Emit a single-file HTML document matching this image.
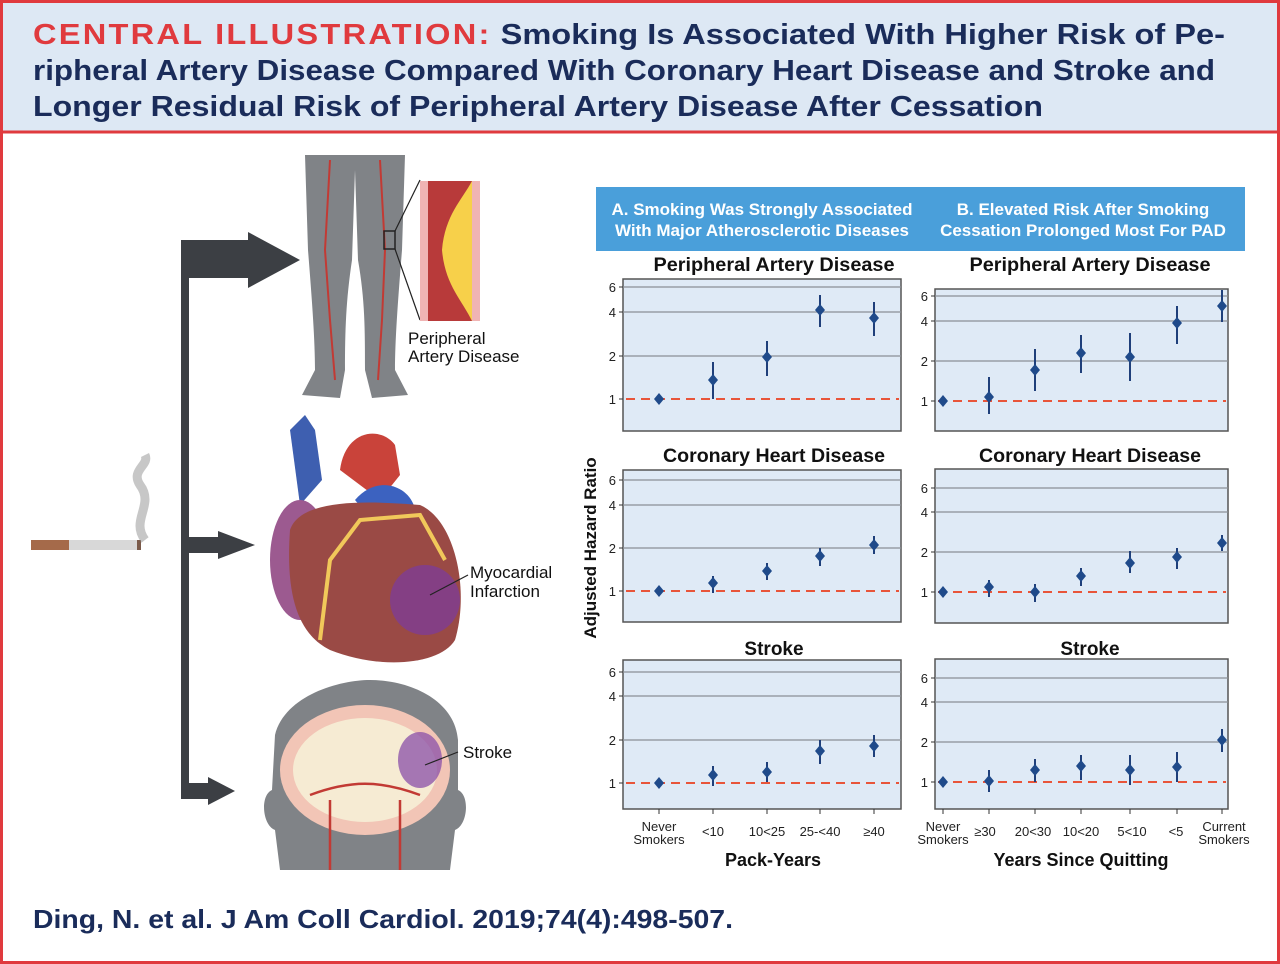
<!DOCTYPE html>
<html><head><meta charset="utf-8"><style>
html,body{margin:0;padding:0;width:1280px;height:964px;overflow:hidden;background:#fff}
svg{display:block}
text{font-family:"Liberation Sans",sans-serif}
</style></head><body>
<svg id="s" width="1280" height="964" viewBox="0 0 1280 964" xmlns="http://www.w3.org/2000/svg">
<rect x="0" y="0" width="1280" height="964" fill="#fff"/>
<rect x="0" y="0" width="1280" height="132" fill="#dde8f4"/>
<rect x="1.5" y="1.5" width="1277" height="961" fill="none" stroke="#e03a3e" stroke-width="3"/>
<line x1="0" y1="132" x2="1280" y2="132" stroke="#e03a3e" stroke-width="3"/>
<text x="33" y="44" font-size="29" font-weight="bold" fill="#1a2c5a" textLength="1192" lengthAdjust="spacingAndGlyphs"><tspan fill="#e03a3e" letter-spacing="2">CENTRAL ILLUSTRATION:</tspan> Smoking Is Associated With Higher Risk of Pe-</text>
<text x="33" y="80" font-size="29" font-weight="bold" fill="#1a2c5a" textLength="1182" lengthAdjust="spacingAndGlyphs">ripheral Artery Disease Compared With Coronary Heart Disease and Stroke and</text>
<text x="33" y="116" font-size="29" font-weight="bold" fill="#1a2c5a" textLength="1010" lengthAdjust="spacingAndGlyphs">Longer Residual Risk of Peripheral Artery Disease After Cessation</text>
<text x="33" y="928" font-size="26" font-weight="bold" fill="#1a2c5a" textLength="700" lengthAdjust="spacingAndGlyphs">Ding, N. et al. J Am Coll Cardiol. 2019;74(4):498-507.</text>

<!-- arrows -->
<g fill="#3c3f44">
<rect x="181" y="240" width="8" height="556"/>
<rect x="181" y="240" width="70" height="38"/>
<polygon points="248,232 300,260 248,288"/>
<rect x="181" y="537" width="40" height="16"/>
<polygon points="218,531 255,545 218,559"/>
<rect x="181" y="783" width="30" height="16"/>
<polygon points="208,777 235,791 208,805"/>
</g>
<!-- cigarette -->
<rect x="31" y="540" width="38" height="10" fill="#a56a4a"/>
<rect x="69" y="540" width="70" height="10" fill="#d8d8d8"/>
<rect x="137" y="540" width="4" height="10" fill="#7a5a4a"/>
<path d="M145 540 C130 520 155 505 140 485 C130 470 150 465 145 455" stroke="#999" stroke-width="9" fill="none" opacity="0.55"/>
<!-- legs -->
<path d="M305 155 L405 155 L402 250 C398 300 395 340 395 370 L408 395 L372 398 L365 370 C365 330 365 300 358 260 L355 170 L352 260 C346 300 345 330 345 370 L340 398 L302 395 L315 370 C315 340 312 300 308 250 Z" fill="#808387"/>
<path d="M330 160 L325 250 L330 320 L335 380 M380 160 L385 250 L382 320 L378 380" stroke="#c23a34" stroke-width="2" fill="none"/>
<rect x="384" y="231" width="11" height="18" fill="none" stroke="#222" stroke-width="1.5"/>
<line x1="395" y1="231" x2="420" y2="180" stroke="#222" stroke-width="1.2"/>
<line x1="395" y1="249" x2="420" y2="320" stroke="#222" stroke-width="1.2"/>
<rect x="420" y="181" width="60" height="140" fill="#f0b4b4"/>
<rect x="428" y="181" width="44" height="140" fill="#b83a3a"/>
<path d="M472 181 C462 200 445 215 442 250 C445 285 462 300 472 321 Z" fill="#f7d04a"/>
<text x="408" y="344" font-size="17" fill="#111">Peripheral</text>
<text x="408" y="362" font-size="17" fill="#111">Artery Disease</text>
<!-- heart -->
<path d="M290 430 L305 415 L315 430 L322 480 L300 505 Z" fill="#3e5fb0"/>
<path d="M340 470 C345 430 380 425 395 445 L400 475 L380 500 Z" fill="#c9433a"/>
<path d="M355 500 C380 470 420 490 415 520 L380 530 Z" fill="#3c62c0"/>
<ellipse cx="300" cy="560" rx="30" ry="60" fill="#9c5a90"/>
<path d="M290 530 C300 500 360 500 420 505 C455 520 470 590 455 640 C440 665 380 670 330 650 C300 635 285 600 290 530 Z" fill="#9a4a45"/>
<ellipse cx="425" cy="600" rx="35" ry="35" fill="#7b3aa0" opacity="0.7"/>
<path d="M320 640 L330 560 L360 520 L420 515 L445 560" stroke="#f1c85a" stroke-width="4" fill="none"/>
<line x1="430" y1="595" x2="468" y2="575" stroke="#222" stroke-width="1.2"/>
<text x="470" y="578" font-size="17" fill="#111">Myocardial</text>
<text x="470" y="597" font-size="17" fill="#111">Infarction</text>
<!-- brain -->
<path d="M275 735 C285 695 340 680 370 680 C410 680 455 700 458 740 L458 790 C470 795 468 825 455 830 L450 870 L280 870 L275 830 C262 825 260 795 272 790 Z" fill="#808387"/>
<ellipse cx="365" cy="770" rx="85" ry="65" fill="#f2c5b6"/>
<ellipse cx="365" cy="770" rx="72" ry="52" fill="#f6ebd3"/>
<ellipse cx="420" cy="760" rx="22" ry="28" fill="#8a4fa8" opacity="0.75"/>
<path d="M330 800 L330 870 M400 800 L400 870 M310 795 C350 780 380 780 420 795" stroke="#c23a34" stroke-width="2.5" fill="none"/>
<line x1="425" y1="765" x2="458" y2="752" stroke="#222" stroke-width="1.2"/>
<text x="463" y="758" font-size="17" fill="#111">Stroke</text>

<!-- panel header -->
<rect x="596" y="187" width="649" height="64" fill="#4a9fda"/>
<text x="762" y="215" font-size="17" font-weight="bold" fill="#fff" text-anchor="middle">A. Smoking Was Strongly Associated</text>
<text x="762" y="236" font-size="17" font-weight="bold" fill="#fff" text-anchor="middle">With Major Atherosclerotic Diseases</text>
<text x="1083" y="215" font-size="17" font-weight="bold" fill="#fff" text-anchor="middle">B. Elevated Risk After Smoking</text>
<text x="1083" y="236" font-size="17" font-weight="bold" fill="#fff" text-anchor="middle">Cessation Prolonged Most For PAD</text>
<text transform="translate(596,548) rotate(-90)" font-size="17" font-weight="bold" fill="#111" text-anchor="middle">Adjusted Hazard Ratio</text>
<text x="773" y="866" font-size="18" font-weight="bold" fill="#111" text-anchor="middle">Pack-Years</text>
<text x="1081" y="866" font-size="18" font-weight="bold" fill="#111" text-anchor="middle">Years Since Quitting</text>
<g id="charts"></g>
</svg>
<script>
var NS="http://www.w3.org/2000/svg",g=document.getElementById('charts');
function el(t,a,txt){var e=document.createElementNS(NS,t);for(var k in a)e.setAttribute(k,a[k]);if(txt!=null)e.textContent=txt;g.appendChild(e);return e;}
var L=[659,713,767,820,874],R=[943,989,1035,1081,1130,1177,1222];
var P=[
{x0:623,x1:901,y0:279,y1:431,t:"Peripheral Artery Disease",ty:271,tk:{6:287,4:312,2:356,1:399},xs:L,pts:[[399,399,399],[380,362,399],[357,341,376],[310,295,327],[318,302,336]]},
{x0:935,x1:1228,y0:289,y1:431,t:"Peripheral Artery Disease",ty:271,tk:{6:296,4:321,2:361,1:401},xs:R,pts:[[401,401,401],[397,377,414],[370,349,391],[353,335,373],[357,333,381],[323,306,344],[306,290,322]]},
{x0:623,x1:901,y0:470,y1:622,t:"Coronary Heart Disease",ty:462,tk:{6:480,4:505,2:548,1:591},xs:L,pts:[[591,591,591],[583,576,593],[571,563,580],[556,548,566],[545,536,554]]},
{x0:935,x1:1228,y0:469,y1:623,t:"Coronary Heart Disease",ty:462,tk:{6:488,4:512,2:552,1:592},xs:R,pts:[[592,592,592],[587,580,597],[592,584,602],[576,568,586],[563,551,573],[557,548,569],[543,535,551]]},
{x0:623,x1:901,y0:660,y1:809,t:"Stroke",ty:655,tk:{6:672,4:696,2:740,1:783},xs:L,pts:[[783,783,783],[775,766,786],[772,762,782],[751,740,764],[746,735,757]]},
{x0:935,x1:1228,y0:659,y1:809,t:"Stroke",ty:655,tk:{6:678,4:702,2:742,1:782},xs:R,pts:[[782,782,782],[781,770,792],[770,759,782],[766,755,780],[770,755,785],[767,752,782],[740,729,752]]}
];
P.forEach(function(p){
 el('rect',{x:p.x0,y:p.y0,width:p.x1-p.x0,height:p.y1-p.y0,fill:'#dfeaf6',stroke:'#555','stroke-width':1.5});
 var cx=p.xs===L?774:1090;
 var ta={x:cx,y:p.ty,'font-size':19,'font-weight':'bold',fill:'#111','text-anchor':'middle'};
 if(p.t.length>10){ta.textLength=p.t[0]=='P'?241:222;ta.lengthAdjust='spacingAndGlyphs';}
 el('text',ta,p.t);
 for(var k in p.tk){var y=p.tk[k];
  if(k!="1")el('line',{x1:p.x0,x2:p.x1,y1:y,y2:y,stroke:'#8a8f96','stroke-width':1.2});
  el('line',{x1:p.x0-4,x2:p.x0,y1:y,y2:y,stroke:'#333'});
  el('text',{x:p.x0-7,y:y+5,'font-size':13,fill:'#222','text-anchor':'end'},k);}
 el('line',{x1:p.x0+3,x2:p.x1-2,y1:p.tk[1],y2:p.tk[1],stroke:'#e8553a','stroke-width':2,'stroke-dasharray':'9,6'});
 p.pts.forEach(function(q,i){var x=p.xs[i];
  el('line',{x1:x,x2:x,y1:q[1],y2:q[2],stroke:'#1f3f7a','stroke-width':2});
  el('polygon',{points:(x-5)+','+q[0]+' '+x+','+(q[0]-6)+' '+(x+5)+','+q[0]+' '+x+','+(q[0]+6),fill:'#1f4a8a'});
  if(p.t=="Stroke")el('line',{x1:x,x2:x,y1:p.y1,y2:p.y1+5,stroke:'#333'});
 });
});
function lab(x,a,b){el('text',{x:x,y:a?831:836,'font-size':13,fill:'#222','text-anchor':'middle'},a||b);if(a&&b)el('text',{x:x,y:844,'font-size':13,fill:'#222','text-anchor':'middle'},b);}
lab(659,"Never","Smokers");lab(713,null,"<10");lab(767,null,"10<25");lab(820,null,"25-<40");lab(874,null,"≥40");
lab(943,"Never","Smokers");lab(985,null,"≥30");lab(1033,null,"20<30");lab(1081,null,"10<20");lab(1132,null,"5<10");lab(1176,null,"<5");lab(1224,"Current","Smokers");
</script>
</body></html>
